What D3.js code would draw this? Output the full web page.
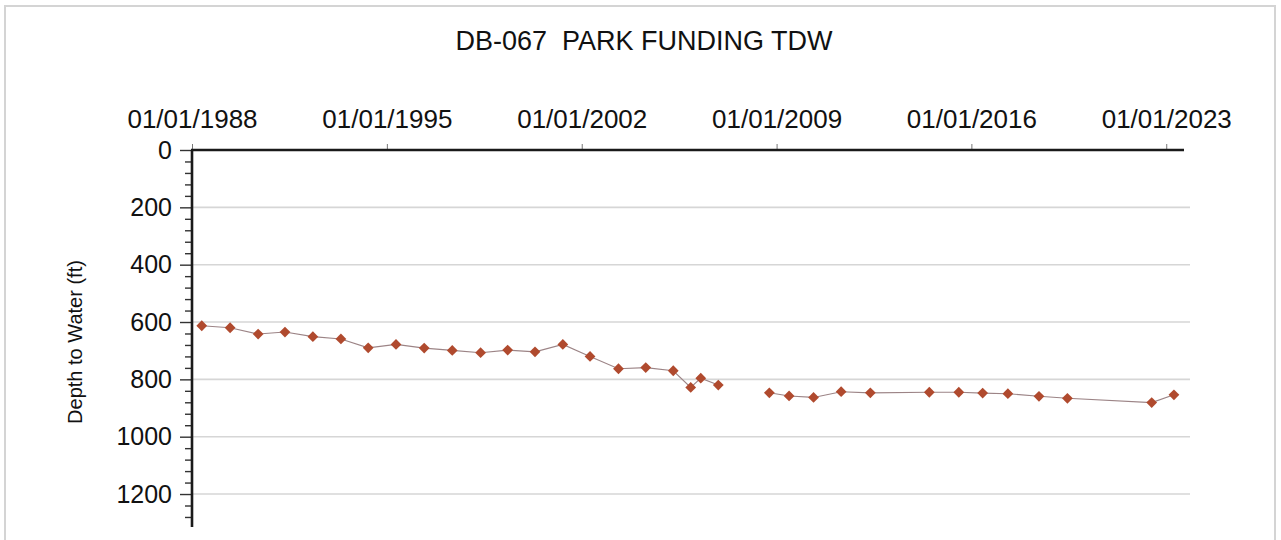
<!DOCTYPE html>
<html>
<head>
<meta charset="utf-8">
<script src="https://cdn.jsdelivr.net/npm/d3@7"></script>
<style>
  html, body { margin: 0; padding: 0; background: #ffffff; }
  svg { display: block; font-family: "Liberation Sans", Arial, sans-serif; }
</style>
</head>
<body>
<svg id="chart" width="1281" height="540"></svg>
<script>
const title = "DB-067  PARK FUNDING TDW";
const yLabel = "Depth to Water (ft)";

const dates = [
  "1988-05-08","1989-05-15","1990-05-18","1991-05-05","1992-05-05","1993-05-08",
  "1994-05-01","1995-05-01","1996-05-05","1997-05-08","1998-05-15","1999-05-05",
  "2000-04-28","2001-04-28","2002-04-20","2003-04-28","2004-04-20","2005-04-16",
  "2005-12-01","2006-04-12","2006-11-28","2008-09-28","2009-06-14","2010-05-01",
  "2011-04-28","2012-05-15","2014-06-28","2015-07-20","2016-05-28","2017-04-24",
  "2018-06-06","2019-06-14","2022-06-24","2023-04-12"
];
const depths = [
  613, 620, 642, 635, 651, 659,
  690, 678, 691, 699, 707, 698,
  704, 678, 720, 763, 759, 770,
  828, 796, 820, 847, 858, 863,
  843, 847, 845, 845, 848, 850,
  859, 866, 881, 854
];
// line is broken after these dates
const lineBreaksAfter = ["2006-11-28"];

const xTickDates = ["1988-01-01","1995-01-01","2002-01-01","2009-01-01","2016-01-01","2023-01-01"];
const xTickLabels = ["01/01/1988","01/01/1995","01/01/2002","01/01/2009","01/01/2016","01/01/2023"];
const yMajorTicks = [0, 200, 400, 600, 800, 1000, 1200];
const yMinorStep = 40;
const xDomain = ["1988-01-01", "2023-08-22"];
const yDomain = [0, 1315];

const parse = d3.timeParse("%Y-%m-%d");
const svg = d3.select("#chart");

// frame
svg.append("rect").attr("x", 5).attr("y", 6).attr("width", 1270).attr("height", 545)
  .attr("fill", "none").attr("stroke", "#d4d4d4").attr("stroke-width", 2);

const pL = 192, pR = 1184, pT = 150, pB = 527;
const x = d3.scaleTime().domain(xDomain.map(parse)).range([pL, pR]);
const y = d3.scaleLinear().domain(yDomain).range([pT, pB]);

// title
svg.append("text").attr("x", 644).attr("y", 50).attr("text-anchor", "middle")
  .style("white-space", "pre").attr("xml:space", "preserve")
  .attr("font-size", 27).attr("fill", "#111").text(title);

// gridlines
svg.append("g").selectAll("line").data(yMajorTicks.filter(v => v > 0)).join("line")
  .attr("x1", pL).attr("x2", 1190)
  .attr("y1", d => y(d)).attr("y2", d => y(d))
  .attr("stroke", "#d6d6d6").attr("stroke-width", 1.6);

// y axis (left), major ticks
const yAxis = d3.axisLeft(y).tickValues(yMajorTicks).tickSize(12).tickPadding(8)
  .tickFormat(d3.format("d"));
const gy = svg.append("g").attr("transform", `translate(${pL},0)`).call(yAxis);
gy.select(".domain").remove();
gy.selectAll(".tick line").attr("stroke", "#333").attr("stroke-width", 1.4);
gy.selectAll(".tick text").attr("font-size", 25).attr("fill", "#111")
  .attr("font-family", "Liberation Sans, Arial, sans-serif");

// minor ticks
const minor = d3.range(0, yDomain[1], yMinorStep).filter(v => v % 200 !== 0);
const yMinorAxis = d3.axisLeft(y).tickValues(minor).tickSize(7).tickFormat("");
const gym = svg.append("g").attr("transform", `translate(${pL},0)`).call(yMinorAxis);
gym.select(".domain").remove();
gym.selectAll(".tick line").attr("stroke", "#333").attr("stroke-width", 1.4);

// x axis (top)
const xAxis = d3.axisTop(x).tickValues(xTickDates.map(parse)).tickSize(6).tickPadding(16)
  .tickFormat((d, i) => xTickLabels[i]);
const gx = svg.append("g").attr("transform", `translate(0,${pT})`).call(xAxis);
gx.select(".domain").remove();
gx.selectAll(".tick line").attr("stroke", "#777").attr("stroke-width", 1);
gx.selectAll(".tick text").attr("font-size", 26).attr("fill", "#111")
  .attr("font-family", "Liberation Sans, Arial, sans-serif");

// axis lines
svg.append("line").attr("x1", pL - 1).attr("x2", pR).attr("y1", pT).attr("y2", pT)
  .attr("stroke", "#1a1a1a").attr("stroke-width", 2.6);
svg.append("line").attr("x1", pL).attr("x2", pL).attr("y1", pT).attr("y2", pB)
  .attr("stroke", "#1a1a1a").attr("stroke-width", 2.6);

// y label
svg.append("text").attr("transform", `translate(82,342) rotate(-90)`)
  .attr("text-anchor", "middle").attr("font-size", 20).attr("fill", "#111").text(yLabel);

// data
const data = dates.map((d, i) => ({ date: parse(d), key: d, value: depths[i] }));
const segments = [];
let cur = [];
data.forEach(d => {
  cur.push(d);
  if (lineBreaksAfter.includes(d.key)) { segments.push(cur); cur = []; }
});
if (cur.length) segments.push(cur);

const line = d3.line().x(d => x(d.date)).y(d => y(d.value));
svg.append("g").selectAll("path").data(segments).join("path")
  .attr("d", line).attr("fill", "none").attr("stroke", "#9c8486").attr("stroke-width", 1.1);

const sym = d3.symbol().type(d3.symbolSquare).size(58);
svg.append("g").selectAll("path").data(data).join("path")
  .attr("d", sym)
  .attr("transform", d => `translate(${x(d.date)},${y(d.value)}) rotate(45)`)
  .attr("fill", "#b04a2e");
</script>
</body>
</html>
